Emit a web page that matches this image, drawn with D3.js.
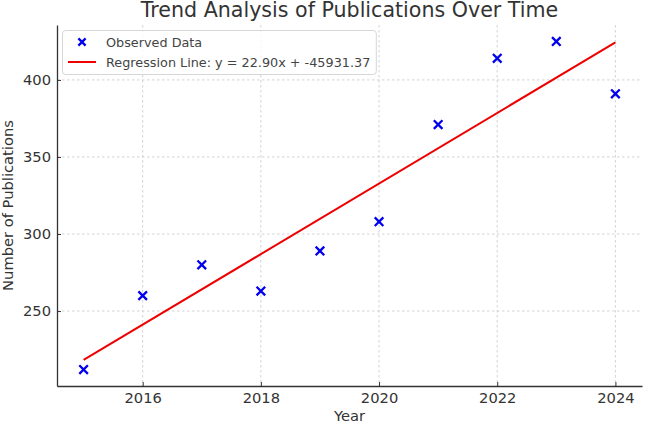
<!DOCTYPE html>
<html><head><meta charset="utf-8">
<script src="https://cdn.jsdelivr.net/npm/d3@7"></script>
<style>body{margin:0;background:#fff}svg{display:block;font-family:"DejaVu Sans",sans-serif}</style>
</head><body><svg id="c" width="645" height="425"></svg>
<script>
const years = [2015,2016,2017,2018,2019,2020,2021,2022,2023,2024];
const publications = [212,260,280,263,289,308,371,414,425,391];
const xTicks = [2016,2018,2020,2022,2024];
const yTicks = [250,300,350,400];
const title = "Trend Analysis of Publications Over Time";
const xLabel = "Year", yLabel = "Number of Publications";

// least squares fit
const mx = d3.mean(years), my = d3.mean(publications);
const slope = d3.sum(years, (x,i)=>(x-mx)*(publications[i]-my)) / d3.sum(years, x=>(x-mx)**2);
const intercept = my - slope*mx;

const svg = d3.select("#c");
const L=57, R=642, T=25, B=386;
const xPad = (d3.max(years)-d3.min(years))*0.05;
const yPad = (d3.max(publications)-d3.min(publications))*0.05;
const x = d3.scaleLinear().domain([d3.min(years)-xPad, d3.max(years)+xPad]).range([L,R]);
const y = d3.scaleLinear().domain([d3.min(publications)-yPad, d3.max(publications)+yPad]).range([B,T]);

// grid
const grid = svg.append("g").attr("stroke","#c8c8c8").attr("stroke-width",0.8).attr("stroke-dasharray","2.5,2.5");
grid.selectAll(".gx").data(xTicks).join("line").attr("x1",d=>x(d)).attr("x2",d=>x(d)).attr("y1",T).attr("y2",B);
grid.selectAll(".gy").data(yTicks).join("line").attr("y1",d=>y(d)).attr("y2",d=>y(d)).attr("x1",L).attr("x2",R);

// axes
const ax = svg.append("g").attr("transform",`translate(0,${B})`)
  .call(d3.axisBottom(x).tickValues(xTicks).tickFormat(d3.format("d")).tickSizeInner(-4).tickSizeOuter(0).tickPadding(8));
const ay = svg.append("g").attr("transform",`translate(${L},0)`)
  .call(d3.axisLeft(y).tickValues(yTicks).tickSizeInner(-4).tickSizeOuter(0).tickPadding(6));
[ax,ay].forEach(g=>{
  g.select(".domain").attr("stroke","#333").attr("stroke-width",1.3);
  g.selectAll(".tick line").attr("stroke","#333").attr("stroke-width",1);
  g.selectAll(".tick text").attr("fill","#333").attr("font-size","14.7px").attr("font-family","DejaVu Sans");
});
ax.selectAll(".tick text").attr("dy","0.71em").attr("y",7);
ay.selectAll(".tick text").attr("x",-6);

// regression line
const xr = d3.extent(years);
svg.append("line")
  .attr("x1",x(xr[0])).attr("y1",y(slope*xr[0]+intercept))
  .attr("x2",x(xr[1])).attr("y2",y(slope*xr[1]+intercept))
  .attr("stroke","#ee0000").attr("stroke-width",2);

// markers
const xm = "M-4.3,-4.3L4.3,4.3M-4.3,4.3L4.3,-4.3";
svg.append("g").selectAll("path").data(years).join("path")
  .attr("transform",(d,i)=>`translate(${x(d)},${y(publications[i])})`)
  .attr("d",xm).attr("stroke","#0000ee").attr("stroke-width",2.3).attr("fill","none");

// title & labels
svg.append("text").attr("x",(L+R)/2).attr("y",17).attr("text-anchor","middle")
  .attr("font-size","20.6px").attr("fill","#333").text(title);
svg.append("text").attr("x",(L+R)/2).attr("y",421).attr("text-anchor","middle")
  .attr("font-size","14.7px").attr("fill","#333").text(xLabel);
svg.append("text").attr("transform",`translate(13,${(T+B)/2}) rotate(-90)`).attr("text-anchor","middle")
  .attr("font-size","14.7px").attr("fill","#333").text(yLabel);

// legend
const lg = svg.append("g");
const box = lg.append("rect").attr("x",62.5).attr("y",30.5).attr("height",44).attr("rx",3)
  .attr("fill","rgba(255,255,255,0.8)").attr("stroke","#d6d6d6").attr("stroke-width",1);
lg.append("path").attr("transform","translate(82,42)").attr("d","M-3.6,-3.6L3.6,3.6M-3.6,3.6L3.6,-3.6")
  .attr("stroke","#0000ee").attr("stroke-width",2.3).attr("fill","none");
lg.append("line").attr("x1",68).attr("x2",96).attr("y1",62).attr("y2",62).attr("stroke","#ee0000").attr("stroke-width",2);
const t1 = lg.append("text").attr("x",106).attr("y",46.5).attr("font-size","12.8px").attr("fill","#444").text("Observed Data");
const t2 = lg.append("text").attr("x",106).attr("y",66.5).attr("font-size","12.8px").attr("fill","#444")
  .text(`Regression Line: y = ${slope.toFixed(2)}x + ${intercept.toFixed(2)}`);
box.attr("width", 106 + t2.node().getComputedTextLength() + 6 - 62.5);
</script></body></html>
